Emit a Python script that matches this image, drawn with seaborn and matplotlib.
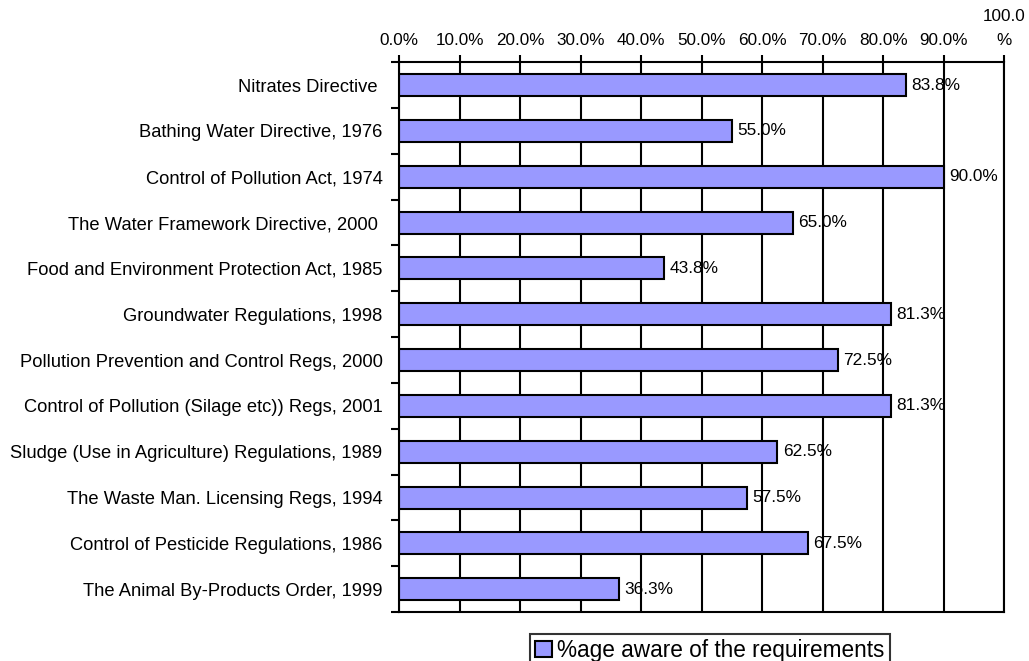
import matplotlib
matplotlib.use("Agg")
import matplotlib.pyplot as plt
import seaborn as sns
import pandas as pd
import numpy as np
from matplotlib.ticker import FixedLocator
from matplotlib.patches import Patch

categories = [
    "Nitrates Directive ",
    "Bathing Water Directive, 1976",
    "Control of Pollution Act, 1974",
    "The Water Framework Directive, 2000 ",
    "Food and Environment Protection Act, 1985",
    "Groundwater Regulations, 1998",
    "Pollution Prevention and Control Regs, 2000",
    "Control of Pollution (Silage etc)) Regs, 2001",
    "Sludge (Use in Agriculture) Regulations, 1989",
    "The Waste Man. Licensing Regs, 1994",
    "Control of Pesticide Regulations, 1986",
    "The Animal By-Products Order, 1999",
]
values = [83.8, 55.0, 90.0, 65.0, 43.8, 81.3, 72.5, 81.3, 62.5, 57.5, 67.5, 36.3]
series_name = "%age aware of the requirements"
x_ticks = [0, 10, 20, 30, 40, 50, 60, 70, 80, 90, 100]
x_tick_labels = ["0.0%", "10.0%", "20.0%", "30.0%", "40.0%", "50.0%", "60.0%",
                 "70.0%", "80.0%", "90.0%", "100.0\n%"]

sns.set_style("white")
plt.rcParams["font.family"] = ["Liberation Sans", "DejaVu Sans"]
plt.rcParams["text.color"] = "black"
plt.rcParams["xtick.color"] = "black"
plt.rcParams["ytick.color"] = "black"
plt.rcParams["xtick.labelcolor"] = "black"
plt.rcParams["ytick.labelcolor"] = "black"

df = pd.DataFrame({"category": categories, "value": values})

fig = plt.figure(figsize=(10.29, 6.61), dpi=100)
ax = fig.add_axes([0.388, 0.074, 0.588, 0.832])

LW = 1.5
sns.barplot(data=df, y="category", x="value", orient="h", color="#9999FF",
            saturation=1, edgecolor="black", linewidth=LW, width=0.48, ax=ax,
            zorder=2)

ax.set_xlim(0, 100)
ax.set_ylim(len(categories) - 0.5, -0.5)
ax.xaxis.tick_top()
ax.set_xticks(x_ticks)
ax.set_xticklabels(x_tick_labels, fontsize=12.3, color="black")
for lbl in ax.get_xticklabels():
    lbl.set_linespacing(1.75)
ax.tick_params(axis="x", which="major", direction="out", length=5, width=LW,
               color="black", pad=5.5, top=True, bottom=False)
ax.grid(axis="x", color="black", linewidth=LW, zorder=0)
ax.set_axisbelow(True)

ax.tick_params(axis="y", which="major", length=0, pad=12, labelsize=13.2,
               labelcolor="black")
ax.yaxis.set_minor_locator(FixedLocator(np.arange(-0.5, len(categories), 1.0)))
ax.tick_params(axis="y", which="minor", length=6, width=LW, direction="out",
               color="black", left=True)
ax.set_xlabel("")
ax.set_ylabel("")

for s in ["top", "bottom", "left", "right"]:
    ax.spines[s].set_visible(True)
    ax.spines[s].set_color("black")
    ax.spines[s].set_linewidth(LW)

for i, v in enumerate(values):
    ax.text(v + 0.9, i, f"{v:.1f}%", va="center", ha="left", fontsize=12.4,
            color="black", zorder=1)

handle = Patch(facecolor="#9999FF", edgecolor="black", linewidth=LW)
leg = fig.legend([handle], [series_name], loc="upper center",
                 bbox_to_anchor=(0.690, 0.0408), fontsize=16.3, frameon=True,
                 fancybox=False, edgecolor="black", handlelength=0.75,
                 handleheight=0.75, handletextpad=0.22, borderpad=0.22,
                 borderaxespad=0)
leg.get_frame().set_linewidth(LW)
for t in leg.get_texts():
    t.set_color("black")

fig.savefig("out.png", dpi=100)
